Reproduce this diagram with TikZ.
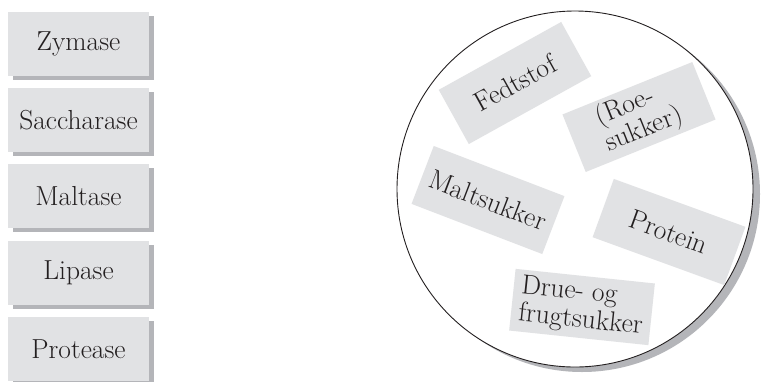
\documentclass[tikz,border=0pt]{standalone}
\usetikzlibrary{positioning, shadows}

\definecolor{boxgray}{HTML}{E1E2E4}
\definecolor{shadegray}{HTML}{B4B5B9}
\definecolor{inktext}{HTML}{231F20}

\begin{document}
\begin{tikzpicture}[
    x=1pt, y=-1pt,
    node distance=12pt,
    txt/.style={text=inktext, font=\fontsize{27.5}{28}\selectfont},
    enzyme/.style={txt, rectangle, fill=boxgray, minimum width=141pt,
        minimum height=64pt, inner sep=0pt,
        general shadow={fill=shadegray, shadow xshift=5pt, shadow yshift=-4pt}},
    food/.style={txt, rectangle, fill=boxgray, minimum width=140pt,
        minimum height=62pt, inner sep=0pt, align=left}
]
    \useasboundingbox (0,0) rectangle (773,381);

    % Enzymes -----------------------------------------------------

    \node[enzyme] (zym) at (78.5,43.5) {Zymase};
    \node[enzyme, below=of zym] (sac) {Saccharase};
    \node[enzyme, below=of sac] (mal) {Maltase};
    \node[enzyme, below=of mal] (lip) {Lipase};
    \node[enzyme, below=of lip] (pro) {Protease};

    % Food circle -------------------------------------------------

    \node[circle, draw=inktext, line width=0.9pt, fill=white,
        minimum size=356pt, inner sep=0pt,
        general shadow={fill=shadegray, shadow xshift=7pt, shadow yshift=-5pt}]
        (plate) at (575,189) {};

    \node[food, rotate=29] (fedt) at (515,83) {Fedtstof};
    \node[food, rotate=22] (roe) at (639,117) {(Roe-\\sukker)};
    \node[food, rotate=-21] (malt) at (488,200) {Maltsukker};
    \node[food, rotate=-20] (prot) at (669,232) {Protein};
    \node[food, rotate=-6] (drue) at (582,307) {Drue- og\\frugtsukker};

\end{tikzpicture}
\end{document}
